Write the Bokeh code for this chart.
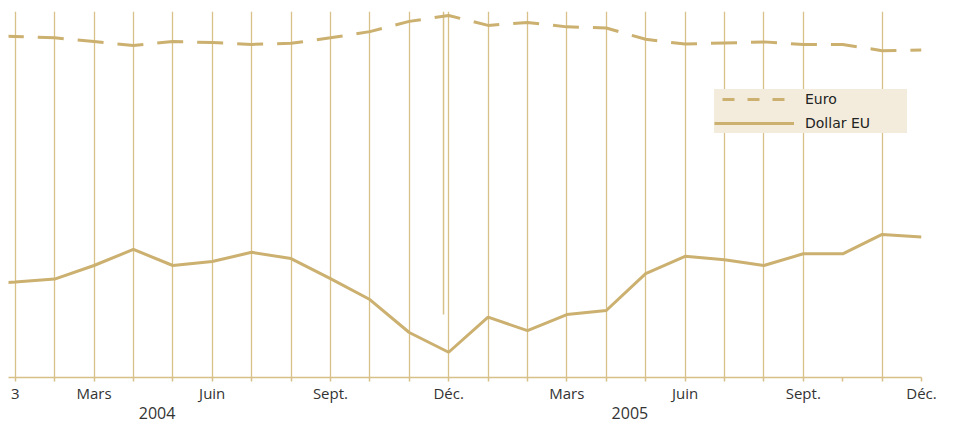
from bokeh.plotting import figure
from bokeh.models import (FixedTicker, LinearAxis, Legend, LegendItem, Grid,
                          ColumnDataSource, Range1d)
from bokeh.embed import file_html
from bokeh.resources import INLINE

# ---- data (monthly, Dec 2003 .. Dec 2005) ----
months = ["2003-12",
          "2004-01", "2004-02", "2004-03", "2004-04", "2004-05", "2004-06",
          "2004-07", "2004-08", "2004-09", "2004-10", "2004-11", "2004-12",
          "2005-01", "2005-02", "2005-03", "2005-04", "2005-05", "2005-06",
          "2005-07", "2005-08", "2005-09", "2005-10", "2005-11", "2005-12"]
euro = [93.3,
        93.2, 92.8, 91.8, 90.7, 91.8, 91.5, 91.0, 91.3, 92.8, 94.5, 97.3, 98.9,
        96.2, 97.0, 95.8, 95.5, 92.4, 91.1, 91.4, 91.7, 91.0, 91.0, 89.3, 89.5]
dollar = [25.4,
          26.1, 26.9, 30.6, 35.0, 30.6, 31.7, 34.2, 32.5, 27.0, 21.3, 12.3, 6.9,
          16.5, 12.8, 17.2, 18.3, 28.4, 33.1, 32.2, 30.6, 33.8, 33.8, 39.1, 38.4]

tick_labels = ["3", "", "Mars", "", "", "Juin", "", "", "Sept.", "", "", "Déc.",
               "", "", "Mars", "", "", "Juin", "", "", "Sept.", "", "", "Déc."]
years = ["2004", "2005"]
year_pos = [3.6, 15.6]
no_grid_month = 21          # Oct 2005 has no vertical rule
sep_x, sep_top, sep_bottom = 10.87, 100.0, 17.2

GOLD = "#cbb070"
GRID = "#d8c089"
NAN = float("nan")

x = [i - 1 for i in range(len(months))]
src = ColumnDataSource(dict(x=x, euro=euro, dollar=dollar, month=months))

p = figure(frame_width=913, frame_height=366,
           x_range=Range1d(-0.17, 23.0), y_range=Range1d(0, 100),
           x_axis_type=None, y_axis_type=None,
           output_backend="svg", toolbar_location=None,
           min_border_left=8, min_border_top=11, min_border_right=29,
           min_border_bottom=50, background_fill_color="white",
           border_fill_color="white")
p.outline_line_color = None

n_ticks = len(tick_labels)
ax1 = LinearAxis(ticker=FixedTicker(ticks=list(range(n_ticks))),
                 major_label_overrides={i: t for i, t in enumerate(tick_labels)})
ax1.axis_line_color = GRID
ax1.axis_line_width = 1.5
ax1.major_tick_line_color = GRID
ax1.major_tick_line_width = 1.5
ax1.major_tick_in = 0
ax1.major_tick_out = 4
ax1.minor_tick_line_color = None
ax1.major_label_standoff = 1
ax1.major_label_text_font = "Open Sans"
ax1.major_label_text_font_size = "15px"
ax1.major_label_text_color = "#333333"
p.add_layout(ax1, "below")

ax2 = LinearAxis(ticker=FixedTicker(ticks=year_pos),
                 major_label_overrides={pos: y for pos, y in zip(year_pos, years)})
ax2.axis_line_color = None
ax2.major_tick_line_color = None
ax2.minor_tick_line_color = None
ax2.major_tick_in = 0
ax2.major_tick_out = 0
ax2.major_label_standoff = 1
ax2.major_label_text_font = "Open Sans"
ax2.major_label_text_font_size = "16px"
ax2.major_label_text_color = "#333333"
p.add_layout(ax2, "below")

grid = Grid(dimension=0,
            ticker=FixedTicker(ticks=[i for i in range(n_ticks) if i != no_grid_month]),
            grid_line_color=GRID, grid_line_width=1.3)
p.add_layout(grid)

p.segment(x0=[sep_x], y0=[sep_top], x1=[sep_x], y1=[sep_bottom],
          line_color=GRID, line_width=1.5)

r_euro = p.line("x", "euro", source=src, line_color=GOLD, line_width=3,
                line_dash="26 14", line_dash_offset=18)
r_dollar = p.line("x", "dollar", source=src, line_color=GOLD, line_width=3)
# legend sample for the dashed series (shorter dashes as in the key)
r_euro_key = p.line(x=[NAN], y=[NAN], line_color=GOLD, line_width=3,
                    line_dash="12 13", line_dash_offset=17)

legend = Legend(items=[LegendItem(label="Euro", renderers=[r_euro_key]),
                       LegendItem(label="Dollar EU", renderers=[r_dollar])],
                location=(706, 244), orientation="vertical",
                padding=3, spacing=4, margin=0,
                glyph_width=80, glyph_height=20, label_height=20,
                label_width=102, label_standoff=11,
                label_text_font="DejaVu Sans", label_text_font_size="14px",
                label_text_color="#222222",
                background_fill_color="#f3ecdd", background_fill_alpha=1.0,
                border_line_color=None)
p.add_layout(legend, "center")

open("out.html", "w").write(file_html(p, INLINE))
